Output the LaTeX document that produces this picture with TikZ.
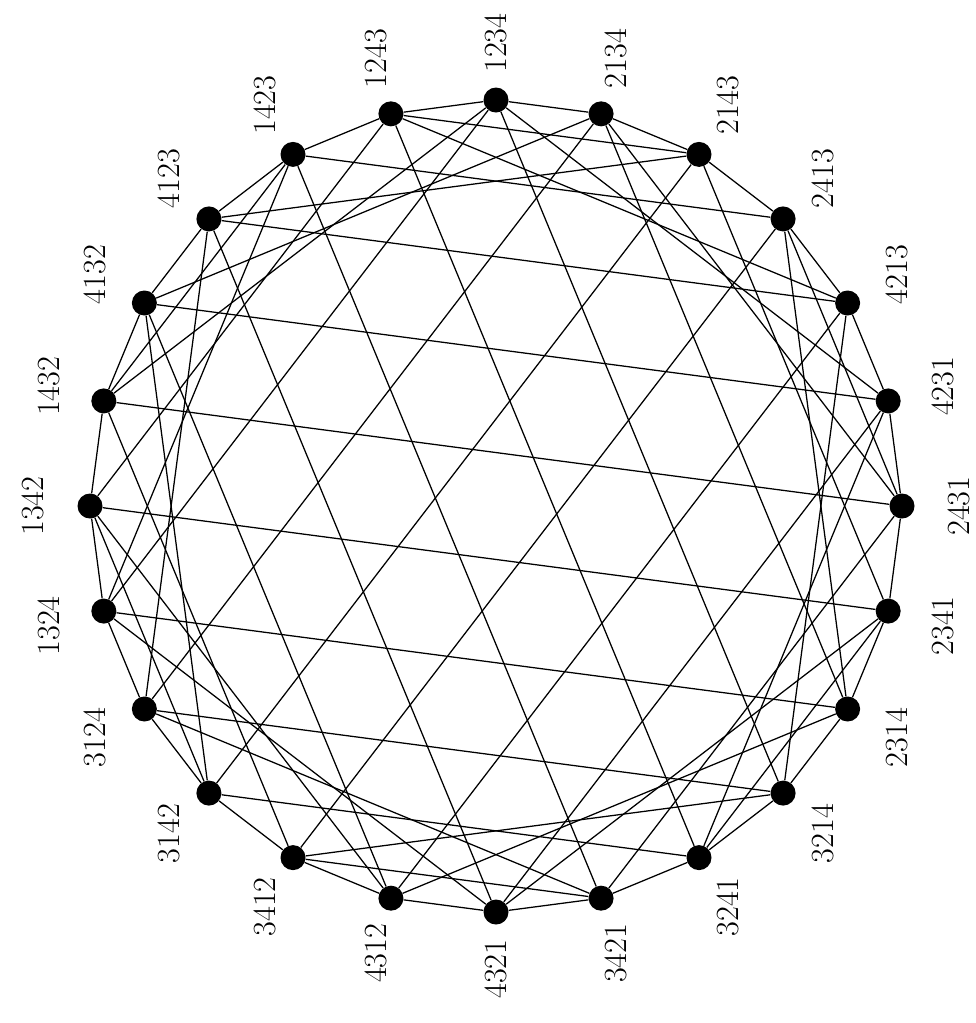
\documentclass[tikz,border=0pt]{standalone}
\begin{document}
\begin{tikzpicture}[x=0.25mm,y=-0.25mm,
  vert/.style={circle,fill=black,inner sep=0pt,minimum size=6.25mm},
  lab/.style={rotate=90,font=\rmfamily\fontsize{23}{28}\selectfont,inner sep=0pt},
  edge/.style={line width=0.9pt}]
\useasboundingbox (0,0) rectangle (976,1023);
\foreach \perm [count=\i from 0] in {1234,2134,2143,2413,4213,4231,2431,2341,2314,3214,3241,3421,4321,4312,3412,3142,3124,1324,1342,1432,4132,4123,1423,1243} {
  \pgfmathsetmacro\ang{90-15*\i}
  \node[vert] (v\perm) at ({496+406*cos(\ang)},{506-406*sin(\ang)}) {};
  \node[lab] (l\perm) at ({496+463*cos(\ang)},{506-463*sin(\ang)}) {\perm};
}
\foreach \s/\ts in {
  1234/{2134,1324,1243,3214,4231,1432},
  2143/{1243,2413,2134,4123,3142,2341},
  4213/{2413,4123,4231,1243,3214,4312},
  2431/{4231,2341,2413,3421,1432,2134},
  2314/{3214,2134,2341,1324,4312,2413},
  3241/{2341,3421,3214,4231,1243,3142},
  4321/{3421,4231,4312,2341,1324,4123},
  3412/{4312,3142,3421,1432,2413,3214},
  3124/{1324,3214,3142,2134,4123,3421},
  1342/{3142,1432,1324,4312,2341,1243},
  4132/{1432,4312,4123,3142,2134,4231},
  1423/{4123,1243,1432,2413,3421,1324}} {
  \foreach \t in \ts {
    \draw[edge] (v\s) -- (v\t);
  }
}
\end{tikzpicture}
\end{document}
